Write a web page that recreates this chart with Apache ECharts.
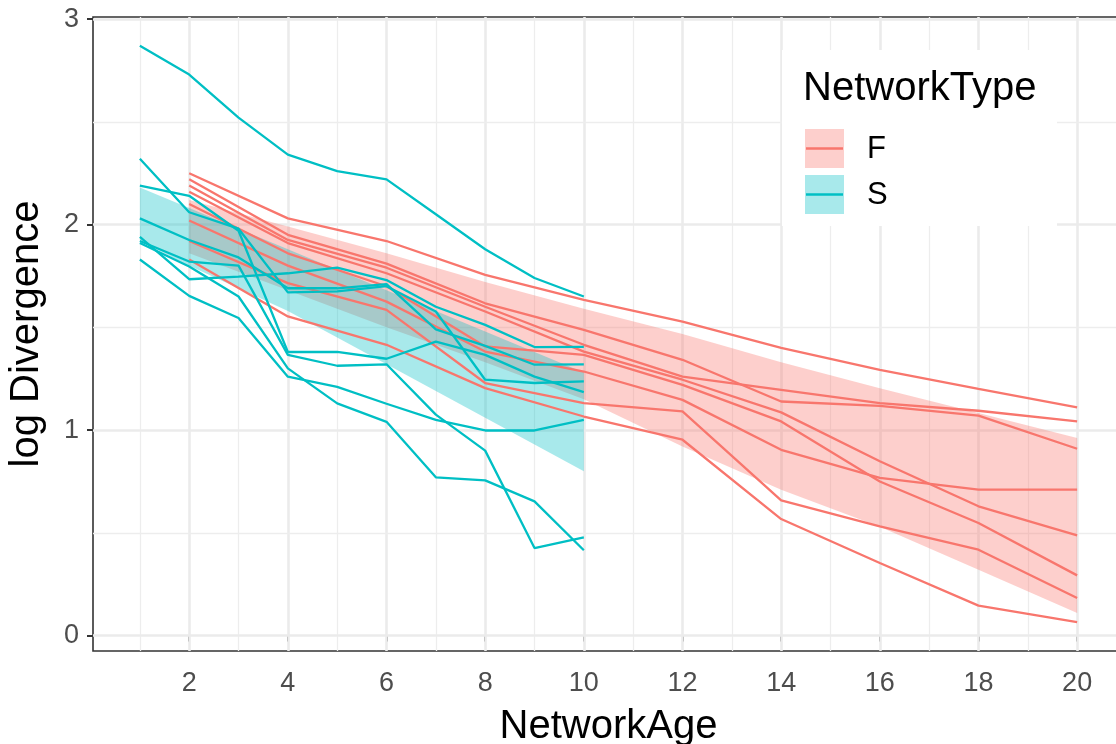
<!DOCTYPE html>
<html>
<head>
<meta charset="UTF-8" />
<title>log Divergence vs NetworkAge</title>
<script src="https://cdn.jsdelivr.net/npm/echarts@6/dist/echarts.min.js"></script>
<style>html,body{margin:0;padding:0;background:#fff;}</style>
</head>
<body>
<div id="main" style="width:1116px;height:744px;"></div>
<script>
// network ages
var ageS = [1, 2, 3, 4, 5, 6, 7, 8, 9, 10];
var ageF = [2, 4, 6, 8, 10, 12, 14, 16, 18, 20];

// S networks (one array per network)
var s1 = [2.87, 2.73, 2.52, 2.34, 2.26, 2.22, 2.05, 1.88, 1.74, 1.65];
var s2 = [2.32, 2.06, 1.98, 1.67, 1.675, 1.70, 1.577, 1.245, 1.229, 1.237];
var s3 = [2.19, 2.14, 1.97, 1.38, 1.38, 1.347, 1.43, 1.366, 1.26, 1.185];
var s4 = [2.03, 1.925, 1.84, 1.69, 1.69, 1.71, 1.49, 1.41, 1.318, 1.32];
var s5 = [1.94, 1.734, 1.747, 1.763, 1.79, 1.73, 1.60, 1.512, 1.404, 1.405];
var s6 = [1.91, 1.796, 1.65, 1.30, 1.13, 1.04, 0.77, 0.755, 0.653, 0.415];
var s7 = [1.83, 1.653, 1.545, 1.26, 1.21, 1.128, 1.05, 0.998, 0.998, 1.05];
var s8 = [1.92, 1.82, 1.80, 1.366, 1.313, 1.32, 1.075, 0.90, 0.426, 0.478];

// F networks
var f1 = [2.25, 2.03, 1.92, 1.755, 1.634, 1.528, 1.40, 1.293, 1.20, 1.11];
var f2 = [2.19, 1.925, 1.79, 1.60, 1.415, 1.26, 1.196, 1.131, 1.094, 1.042];
var f3 = [2.22, 1.95, 1.81, 1.617, 1.488, 1.342, 1.139, 1.118, 1.07, 0.909];
var f4 = [2.16, 1.91, 1.763, 1.577, 1.382, 1.245, 1.086, 0.848, 0.629, 0.488];
var f5 = [2.10, 1.86, 1.70, 1.407, 1.366, 1.22, 1.042, 0.75, 0.548, 0.293];
var f6 = [2.02, 1.80, 1.625, 1.382, 1.285, 1.147, 0.904, 0.767, 0.71, 0.71];
var f7 = [1.92, 1.715, 1.585, 1.229, 1.131, 1.091, 0.658, 0.531, 0.418, 0.183];
var f8 = [1.83, 1.553, 1.415, 1.204, 1.066, 0.953, 0.567, 0.353, 0.146, 0.065];

// ribbons (lower / upper)
var fLow  = [1.86, 1.68, 1.50, 1.33, 1.15, 0.92, 0.71, 0.53, 0.32, 0.11];
var fHigh = [2.12, 1.99, 1.86, 1.72, 1.59, 1.467, 1.33, 1.204, 1.083, 0.961];
var sLow  = [1.92, 1.80, 1.69, 1.58, 1.45, 1.32, 1.19, 1.06, 0.93, 0.80];
var sHigh = [2.18, 2.08, 1.98, 1.88, 1.78, 1.68, 1.58, 1.48, 1.38, 1.28];

// axis ticks
var xTicks = [2, 4, 6, 8, 10, 12, 14, 16, 18, 20];
var xMinor = [1, 3, 5, 7, 9, 11, 13, 15, 17, 19];
var yTicks = [0, 1, 2, 3];
var yMinor = [0.5, 1.5, 2.5];

var RED = '#F8766D', TEAL = '#00BFC4';
var RED_FILL = 'rgba(248,118,109,0.35)', TEAL_FILL = 'rgba(0,191,196,0.34)';
var FONT = '"Liberation Sans", Arial, sans-serif';

var chart = echarts.init(document.getElementById('main'), null, {renderer: 'canvas'});

function pairs(xs, ys) {
    return xs.map(function (x, i) { return [x, ys[i]]; });
}

function band(name, xs, lo, hi, fill, z) {
    return {
        type: 'custom', name: name, z: z, silent: true,
        data: [[xs[0], lo[0]]],
        renderItem: function (params, api) {
            var pts = [];
            for (var i = 0; i < xs.length; i++) pts.push(api.coord([xs[i], hi[i]]));
            for (var j = xs.length - 1; j >= 0; j--) pts.push(api.coord([xs[j], lo[j]]));
            return {type: 'polygon', shape: {points: pts}, style: {fill: fill}};
        }
    };
}

function lineSeries(name, xs, ys, color, z) {
    return {
        type: 'line', name: name, data: pairs(xs, ys), z: z,
        showSymbol: false, symbol: 'none', silent: true,
        lineStyle: {color: color, width: 2.3}
    };
}

// gridlines as mark lines
var grids = [];
xTicks.forEach(function (v) { grids.push({xAxis: v, lineStyle: {color: '#EBEBEB', width: 2.6, type: 'solid'}}); });
xMinor.forEach(function (v) { grids.push({xAxis: v, lineStyle: {color: '#EDEDED', width: 1.3, type: 'solid'}}); });
yTicks.forEach(function (v) { grids.push({yAxis: v, lineStyle: {color: '#EBEBEB', width: 2.6, type: 'solid'}}); });
yMinor.forEach(function (v) { grids.push({yAxis: v, lineStyle: {color: '#EDEDED', width: 1.3, type: 'solid'}}); });

var series = [
    {
        type: 'line', name: 'grid', data: [], silent: true, z: 1,
        markLine: {silent: true, symbol: 'none', z: 1, label: {show: false}, animation: false, data: grids}
    },
    band('F band', ageF, fLow, fHigh, RED_FILL, 2),
    band('S band', ageS, sLow, sHigh, TEAL_FILL, 3)
];
[f1, f2, f3, f4, f5, f6, f7, f8].forEach(function (d, i) {
    series.push(lineSeries('F' + (i + 1), ageF, d, RED, 5));
});
[s1, s2, s3, s4, s5, s6, s7, s8].forEach(function (d, i) {
    series.push(lineSeries('S' + (i + 1), ageS, d, TEAL, 6));
});

var option = {
    animation: false,
    backgroundColor: '#fff',
    textStyle: {fontFamily: FONT},
    grid: {
        left: 93, right: -8, top: 17, bottom: 93,
        containLabel: false, outerBoundsMode: 'none',
        show: true, borderColor: '#333333', borderWidth: 1.6, backgroundColor: 'transparent'
    },
    xAxis: {
        type: 'value', min: 0.05, max: 20.95,
        name: 'NetworkAge', nameLocation: 'middle', nameGap: 56,
        nameTextStyle: {fontSize: 40, color: '#000', fontFamily: FONT},
        axisLine: {show: false},
        axisTick: {show: true, length: 6, customValues: xTicks, lineStyle: {color: '#333', width: 2}},
        axisLabel: {customValues: xTicks, fontSize: 27, color: '#4D4D4D', margin: 19, fontFamily: FONT},
        splitLine: {show: false}
    },
    yAxis: {
        type: 'value', min: -0.075, max: 3.01,
        name: 'log Divergence', nameLocation: 'middle', nameGap: 46,
        nameTextStyle: {fontSize: 40, color: '#000', fontFamily: FONT},
        axisLine: {show: false},
        axisTick: {show: true, length: 6, customValues: yTicks, lineStyle: {color: '#333', width: 2}},
        axisLabel: {customValues: yTicks, fontSize: 27, color: '#4D4D4D', margin: 14, fontFamily: FONT},
        splitLine: {show: false}
    },
    graphic: [
        {type: 'rect', z: 100, shape: {x: 782, y: 50, width: 275, height: 176}, style: {fill: '#fff'}},
        {type: 'text', z: 101, x: 803, y: 89, style: {text: 'NetworkType', font: '40px ' + FONT, fill: '#000', verticalAlign: 'middle'}},
        {type: 'rect', z: 101, shape: {x: 805, y: 129, width: 39, height: 39}, style: {fill: RED_FILL}},
        {type: 'line', z: 102, shape: {x1: 806, y1: 148.5, x2: 843, y2: 148.5}, style: {stroke: RED, lineWidth: 2.3}},
        {type: 'text', z: 101, x: 867, y: 149, style: {text: 'F', font: '31px ' + FONT, fill: '#000', verticalAlign: 'middle'}},
        {type: 'rect', z: 101, shape: {x: 805, y: 175, width: 39, height: 39}, style: {fill: TEAL_FILL}},
        {type: 'line', z: 102, shape: {x1: 806, y1: 194.5, x2: 843, y2: 194.5}, style: {stroke: TEAL, lineWidth: 2.3}},
        {type: 'text', z: 101, x: 867, y: 195, style: {text: 'S', font: '31px ' + FONT, fill: '#000', verticalAlign: 'middle'}}
    ],
    series: series
};

chart.setOption(option);
</script>
</body>
</html>
